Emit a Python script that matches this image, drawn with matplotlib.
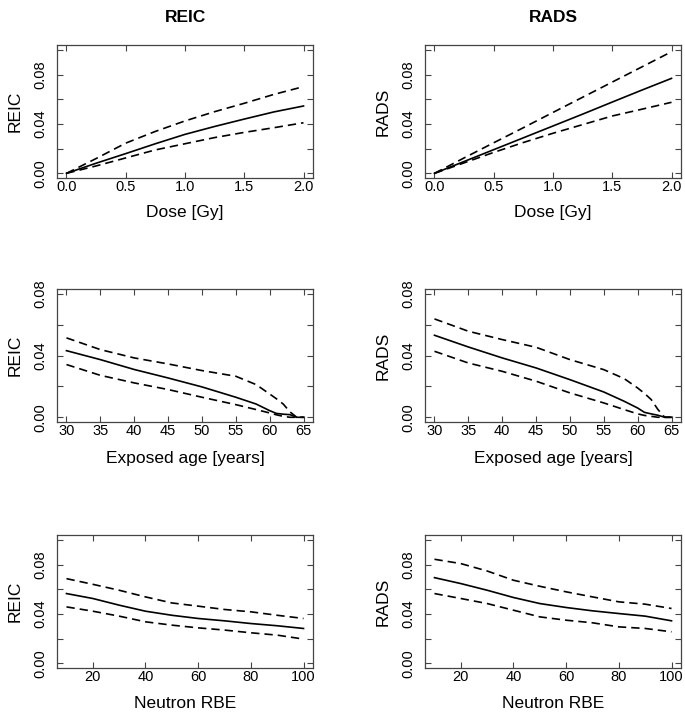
import numpy as np
import matplotlib.pyplot as plt

plt.rcParams['font.family'] = ['Liberation Sans', 'DejaVu Sans']

# dose response (Gy)
dose = np.array([0.0, 0.25, 0.5, 0.75, 1.0, 1.25, 1.5, 1.75, 2.0])
reic_dose = np.array([0, 0.0082, 0.0160, 0.0240, 0.0316, 0.0380, 0.0440, 0.0498, 0.0546])
reic_dose_hi = np.array([0, 0.0120, 0.0245, 0.0340, 0.0425, 0.0500, 0.0568, 0.0640, 0.0703])
reic_dose_lo = np.array([0, 0.0060, 0.0125, 0.0190, 0.0240, 0.0290, 0.0332, 0.0370, 0.0410])
rads_dose = np.array([0, 0.0096, 0.0192, 0.0288, 0.0384, 0.0480, 0.0578, 0.0675, 0.0770])
rads_dose_hi = np.array([0, 0.0125, 0.0248, 0.0370, 0.0494, 0.0617, 0.0740, 0.0863, 0.0986])
rads_dose_lo = np.array([0, 0.0085, 0.0170, 0.0250, 0.0325, 0.0395, 0.0465, 0.0520, 0.0576])

# exposed age (years)
age = np.array([30, 35, 40, 45, 50, 55, 58, 60, 61, 62, 63, 64, 65])
reic_age = np.array([0.0432, 0.0374, 0.0310, 0.0255, 0.0197, 0.0130, 0.0086, 0.0043, 0.0025, 0.0020, 0.0017, 0.0, 0.0])
reic_age_hi = np.array([0.0515, 0.0439, 0.0385, 0.0346, 0.0303, 0.0266, 0.0212, 0.0151, 0.0120, 0.0086, 0.0035, 0.0, 0.0])
reic_age_lo = np.array([0.0342, 0.0272, 0.0223, 0.0180, 0.0130, 0.0082, 0.0050, 0.0028, 0.0016, 0.0006, 0.0, 0.0, 0.0])
rads_age = np.array([0.0532, 0.0456, 0.0385, 0.0320, 0.0244, 0.0164, 0.0104, 0.0060, 0.0032, 0.0022, 0.0013, 0.0, 0.0])
rads_age_hi = np.array([0.0638, 0.0558, 0.0504, 0.0454, 0.0374, 0.0309, 0.0251, 0.0190, 0.0155, 0.0115, 0.0050, 0.0, 0.0])
rads_age_lo = np.array([0.0428, 0.0352, 0.0298, 0.0234, 0.0158, 0.0093, 0.0050, 0.0022, 0.0012, 0.0006, 0.0, 0.0, 0.0])

# neutron RBE
rbe = np.array([10, 20, 30, 40, 50, 60, 70, 80, 90, 100])
reic_rbe = np.array([0.0566, 0.0526, 0.0472, 0.0423, 0.0390, 0.0364, 0.0345, 0.0323, 0.0305, 0.0283])
reic_rbe_hi = np.array([0.0687, 0.0641, 0.0593, 0.0539, 0.0490, 0.0464, 0.0437, 0.0418, 0.0390, 0.0364])
reic_rbe_lo = np.array([0.0458, 0.0423, 0.0383, 0.0337, 0.0310, 0.0288, 0.0270, 0.0248, 0.0229, 0.0197])
rads_rbe = np.array([0.0695, 0.0647, 0.0593, 0.0534, 0.0485, 0.0453, 0.0426, 0.0404, 0.0383, 0.0345])
rads_rbe_hi = np.array([0.0844, 0.0809, 0.0749, 0.0674, 0.0625, 0.0580, 0.0539, 0.0499, 0.0480, 0.0445])
rads_rbe_lo = np.array([0.0566, 0.0526, 0.0485, 0.0431, 0.0377, 0.0350, 0.0329, 0.0296, 0.0283, 0.0256])

fig = plt.figure(figsize=(6.85, 7.2), dpi=100)

col_left = [57 / 685, 425 / 685]
ax_w = 256 / 685
row_bottom = [0.7524, 0.4136, 0.0718]
ax_h = 0.185

box_col = '#444444'
dash = (0, (5, 3))

rows = [
    (dose, [(reic_dose, reic_dose_lo, reic_dose_hi), (rads_dose, rads_dose_lo, rads_dose_hi)],
     'Dose [Gy]', (0, 2), [0, 0.5, 1.0, 1.5, 2.0], ['0.0', '0.5', '1.0', '1.5', '2.0'], 0.1),
    (age, [(reic_age, reic_age_lo, reic_age_hi), (rads_age, rads_age_lo, rads_age_hi)],
     'Exposed age [years]', (30, 65), list(range(30, 66, 5)), [str(v) for v in range(30, 66, 5)], 0.08),
    (rbe, [(reic_rbe, reic_rbe_lo, reic_rbe_hi), (rads_rbe, rads_rbe_lo, rads_rbe_hi)],
     'Neutron RBE', (10, 100), [20, 40, 60, 80, 100], ['20', '40', '60', '80', '100'], 0.1),
]
names = ['REIC', 'RADS']
xlab_y = [-0.26, -0.273, -0.262]

for r, (x, series, xlab, xr, xt, xtl, ymax) in enumerate(rows):
    for c in range(2):
        ax = fig.add_axes([col_left[c], row_bottom[r], ax_w, ax_h])
        mid, lo, hi = series[c]
        ax.plot(x, mid, color='black', lw=1.2)
        ax.plot(x, hi, color='black', lw=1.2, linestyle=dash)
        ax.plot(x, lo, color='black', lw=1.2, linestyle=dash)

        pad_x = (xr[1] - xr[0]) * 0.04
        ax.set_xlim(xr[0] - pad_x, xr[1] + pad_x)
        ax.set_ylim(-0.04 * ymax, ymax * 1.04)
        ax.set_xticks(xt)
        ax.set_xticklabels(xtl)
        yt = np.arange(0, ymax + 0.001, 0.02)
        ax.set_yticks(yt)
        ax.set_yticklabels(['%.2f' % v if round(v * 100) % 4 == 0 else '' for v in yt])

        ax.tick_params(direction='in', top=True, right=True, length=4, width=0.8,
                       color=box_col, labelsize=10.5)
        ax.tick_params(axis='x', pad=1.5)
        ax.tick_params(axis='y', pad=7)
        plt.setp(ax.get_yticklabels(), rotation=90, va='center')
        for s in ax.spines.values():
            s.set_color(box_col)
            s.set_linewidth(0.9)

        ax.set_xlabel(xlab, fontsize=12.5, va='center')
        ax.xaxis.set_label_coords(0.5, xlab_y[r])
        ax.set_ylabel(names[c], fontsize=12.5, va='center')
        ax.yaxis.set_label_coords(-0.164, 0.5)

        if r == 0:
            ax.text(0.5, 1.2035, names[c], transform=ax.transAxes, ha='center',
                    va='center', fontsize=12.5, fontweight='bold')

fig.savefig('out.png', dpi=100)
